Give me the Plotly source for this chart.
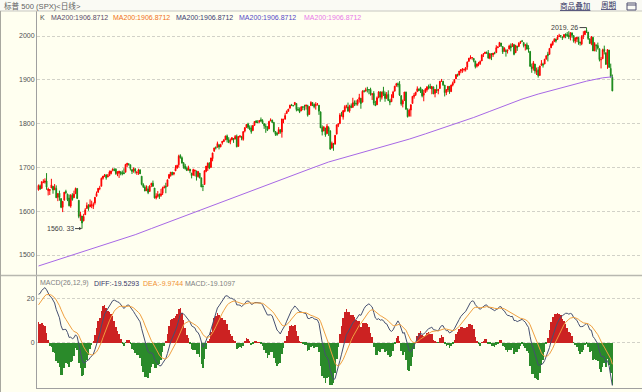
import numpy as np
import plotly.graph_objects as go

# ---------------- data (S&P 500 daily, May 15 2013 - Oct 13 2014) ----------------
# warm-up closes (Feb 19 - May 14, 2013), only used to seed the MACD averages
pre_close = [1530.9, 1512.0, 1502.4, 1515.6, 1487.9, 1496.9, 1516.0, 1514.7,
             1518.2, 1525.2, 1539.8, 1541.5, 1544.3, 1551.2, 1556.2, 1552.5, 1554.5, 1563.2, 1560.7, 1552.1,
             1548.3, 1558.7, 1545.8, 1556.9, 1551.7, 1563.8, 1562.9, 1569.2,
             1562.2, 1570.3, 1553.7, 1560.0, 1553.3, 1563.1, 1568.6, 1587.7, 1593.4, 1588.9, 1552.4, 1574.6,
             1552.0, 1541.6, 1555.3, 1562.5, 1578.8, 1578.8, 1585.2, 1582.2, 1593.6, 1597.6,
             1582.7, 1597.6, 1614.4, 1617.5, 1626.0, 1632.7, 1626.7, 1633.7, 1633.8, 1650.3]

opens = [
    1649, 1658, 1652, 1666, 1666, 1669, 1647, 1647, 1653, 1657, 1649, 1652,
    1632, 1641, 1629, 1609, 1625, 1645, 1639, 1630, 1612, 1636, 1631, 1640, 1652, 1625, 1589, 1589, 1578, 1592, 1606, 1611,
    1610, 1614, 1611, 1619, 1634, 1643, 1652, 1657, 1675, 1680, 1683, 1678, 1681, 1686, 1694, 1696, 1696, 1685, 1687, 1690, 1688, 1688,
    1689, 1706, 1708, 1706, 1695, 1693, 1696, 1688, 1691, 1694, 1680, 1661, 1655, 1647, 1651, 1645, 1660, 1664, 1653, 1630, 1634, 1639,
    1636, 1641, 1653, 1657, 1657, 1675, 1681, 1689, 1685, 1692, 1698, 1706, 1727, 1722, 1711, 1703, 1698, 1694, 1696, 1687,
    1682, 1692, 1692, 1679, 1687, 1676, 1657, 1661, 1691, 1700, 1709, 1700, 1720, 1737, 1745.2, 1746, 1752, 1747, 1756, 1759, 1763, 1772, 1763,
    1759, 1763, 1766, 1765, 1771, 1748, 1770, 1770, 1764, 1783, 1791, 1799, 1791, 1790, 1784, 1796, 1806, 1803, 1803, 1809,
    1807, 1800, 1794, 1793, 1788, 1806, 1808, 1803, 1782, 1778, 1777, 1786, 1781, 1809, 1810, 1823, 1828, 1835, 1843, 1841.5, 1843,
    1846, 1833, 1832, 1829, 1838, 1839, 1840, 1841, 1821, 1841, 1848, 1844, 1841, 1844.7, 1842, 1827, 1791, 1783, 1790, 1777, 1791,
    1783, 1744, 1753, 1753, 1776, 1796, 1800, 1820, 1815, 1828, 1839, 1838, 1829, 1841, 1837, 1848, 1846, 1845, 1855,
    1858, 1849, 1874, 1874, 1878.5, 1877.9, 1878, 1866, 1869, 1845, 1843, 1859, 1872, 1860, 1875, 1868, 1859, 1867, 1852, 1850, 1859,
    1874, 1887, 1891, 1890, 1864, 1845, 1853, 1872, 1831, 1818, 1831, 1846, 1862, 1866, 1873, 1879, 1882, 1878, 1865, 1871, 1877,
    1884.4, 1885, 1879, 1884, 1869, 1877, 1875, 1880, 1896.8, 1897, 1888, 1871, 1877, 1885, 1873, 1888, 1893, 1902, 1912, 1911, 1920,
    1923.9, 1923.1, 1923, 1929, 1942, 1949, 1950.3, 1949, 1943, 1931, 1935, 1937, 1943, 1958, 1960, 1962.9, 1962, 1949, 1959.9, 1957, 1960.8,
    1962, 1973.1, 1976, 1984, 1976, 1965, 1966.7, 1965.8, 1970, 1977, 1976, 1980, 1962, 1977, 1976, 1985, 1988, 1985, 1978.2, 1980, 1973, 1965,
    1929.8, 1927, 1936, 1917.3, 1923, 1910, 1933, 1935.7, 1936, 1947, 1958.9, 1958, 1973, 1980, 1987, 1993, 1992, 1998.6, 2000.5, 1997.4, 1998,
    2004.1, 2003.6, 2001.7, 1998, 2007.2, 2001, 1988.4, 1992.9, 1997, 1986, 1982, 1999.3, 2003, 2012.7, 2009, 1993, 1983, 1997, 1966, 1979, 1978.2,
    1971, 1945.8, 1948, 1970, 1962, 1936, 1968, 1926, 1905.7,
]
highs = [
    1661, 1661, 1667, 1673, 1675, 1687, 1654, 1650, 1674, 1657, 1662, 1659,
    1640, 1647, 1629, 1623, 1644, 1649, 1640, 1638, 1639, 1641, 1647, 1654, 1652, 1625, 1599, 1589, 1594, 1607, 1620, 1616,
    1627, 1624, 1620, 1632, 1645, 1653, 1658, 1677, 1680, 1685, 1684, 1685, 1693, 1692, 1698, 1698, 1698, 1691, 1692, 1691, 1693, 1698,
    1708, 1710, 1709, 1706, 1695, 1700, 1699, 1691, 1697, 1696, 1680, 1664, 1659, 1659, 1657, 1660, 1665, 1670, 1653, 1641, 1646, 1640,
    1651, 1656, 1659, 1665, 1672, 1684, 1689, 1690, 1689, 1705, 1706, 1729, 1730, 1725, 1711, 1708, 1702, 1704, 1696, 1687,
    1697, 1694, 1692, 1692, 1687, 1677, 1662, 1693, 1703, 1711, 1712, 1722, 1733, 1745, 1748, 1759, 1752, 1754, 1760, 1765, 1772, 1775, 1769,
    1766, 1769, 1767, 1774, 1775, 1771, 1773, 1772, 1782, 1792, 1798, 1802, 1796, 1796, 1797, 1805, 1808, 1808, 1808, 1814,
    1810, 1800, 1800, 1793, 1806, 1812, 1809, 1803, 1783, 1781, 1792, 1787, 1811, 1811, 1824, 1830, 1833, 1843, 1845, 1842, 1849,
    1846, 1838, 1837, 1840, 1840, 1843, 1843, 1843, 1839, 1851, 1848, 1846, 1849, 1847, 1842, 1827, 1796, 1794, 1790, 1799, 1794,
    1785, 1759, 1756, 1774, 1798, 1800, 1824, 1827, 1830, 1842, 1843, 1848, 1843, 1846, 1859, 1853, 1853, 1855, 1868,
    1858, 1876, 1877, 1882, 1884, 1878, 1882, 1868, 1874, 1852, 1862, 1874, 1874, 1873, 1884, 1873, 1872, 1876, 1856, 1867, 1875,
    1886, 1893, 1894, 1897, 1864, 1855, 1872, 1873, 1835, 1834, 1844, 1862, 1870, 1872, 1885, 1880, 1884, 1878, 1877, 1881, 1885,
    1889, 1891, 1886, 1884, 1879, 1889, 1879, 1897, 1902, 1897, 1888, 1878, 1886, 1885, 1889, 1896, 1901, 1912, 1914, 1920, 1924,
    1926, 1925, 1929, 1942, 1949, 1956, 1951, 1949, 1943, 1937, 1941, 1944, 1958, 1960, 1964, 1964, 1968, 1961, 1960, 1961, 1964,
    1979, 1977, 1986, 1984, 1976, 1974, 1970, 1969, 1980, 1983, 1984, 1982, 1980, 1977, 1986, 1989, 1991, 1985, 1982, 1985, 1979, 1965,
    1937, 1943, 1936, 1928, 1929, 1932, 1945, 1939, 1948, 1955, 1964, 1972, 1983, 1989, 1995, 1994, 2002, 2005, 2002, 1999, 2003,
    2006, 2009, 2011, 2008, 2007, 2001, 1997, 1998, 1997, 1987, 2002, 2011, 2012, 2019.26, 2009, 1995, 2000, 1997, 1986, 1981, 1985,
    1971, 1952, 1971, 1978, 1962, 1970, 1968, 1937, 1912,
]
lows = [
    1647, 1649, 1652, 1664, 1663, 1649, 1636, 1637, 1653, 1640, 1649, 1631,
    1623, 1624, 1607, 1598, 1625, 1639, 1623, 1611, 1608, 1624, 1630, 1640, 1629, 1584, 1578, 1560.33, 1577, 1592, 1606, 1601,
    1610, 1607, 1605, 1615, 1634, 1643, 1648, 1657, 1672, 1678, 1672, 1678, 1681, 1684, 1691, 1692, 1683, 1680, 1676, 1682, 1682, 1685,
    1689, 1701, 1704, 1693, 1685, 1688, 1686, 1683, 1683, 1685, 1659, 1653, 1646, 1646, 1639, 1645, 1655, 1656, 1629, 1627, 1631, 1628,
    1633, 1637, 1653, 1641, 1657, 1675, 1679, 1682, 1682, 1692, 1698, 1700, 1720, 1709, 1697, 1695, 1692, 1693, 1687, 1675,
    1682, 1680, 1670, 1677, 1675, 1655, 1646, 1661, 1689, 1692, 1696, 1700, 1714, 1736, 1741, 1746, 1741, 1746, 1752, 1758, 1763, 1757, 1756,
    1753, 1762, 1756, 1764, 1746, 1748, 1768, 1762, 1761, 1780, 1791, 1788, 1785, 1777, 1784, 1795, 1801, 1801, 1803, 1804,
    1799, 1788, 1779, 1783, 1788, 1806, 1802, 1780, 1772, 1772, 1777, 1777, 1768, 1801, 1810, 1823, 1828, 1835, 1840, 1839, 1842,
    1828, 1829, 1824, 1829, 1831, 1830, 1832, 1816, 1821, 1841, 1840, 1835, 1832, 1841, 1820, 1790, 1773, 1783, 1770, 1777, 1772,
    1740, 1744, 1738, 1753, 1776, 1792, 1800, 1816, 1809, 1826, 1835, 1827, 1825, 1836, 1837, 1840, 1841, 1841, 1848,
    1834, 1849, 1871, 1874, 1871, 1867, 1864, 1854, 1842, 1840, 1843, 1859, 1850, 1855, 1863, 1850, 1856, 1853, 1842, 1850, 1859,
    1874, 1884, 1883, 1863, 1841, 1837, 1852, 1831, 1814, 1816, 1816, 1846, 1857, 1863, 1873, 1874, 1870, 1860, 1851, 1871, 1873,
    1878, 1879, 1867, 1868, 1860, 1870, 1867, 1880, 1896, 1886, 1862, 1865, 1872, 1868, 1873, 1885, 1893, 1902, 1907, 1910, 1915,
    1916, 1919, 1919, 1923, 1942, 1947, 1946, 1940, 1926, 1928, 1931, 1934, 1943, 1952, 1959, 1959, 1948, 1947, 1945, 1952, 1958,
    1962, 1973, 1976, 1975, 1959, 1965, 1953, 1960, 1970, 1965, 1976, 1956, 1961, 1966, 1976, 1982, 1986, 1974, 1967, 1970, 1962, 1931,
    1916, 1921, 1914, 1911, 1905, 1909, 1933, 1928, 1936, 1947, 1942, 1958, 1973, 1978, 1987, 1985, 1992, 1999, 1996, 1991, 1995,
    1995, 1998, 1993, 1990, 1996, 1985, 1983, 1986, 1980, 1978, 1979, 1993, 2003, 2007, 1991, 1983, 1979, 1966, 1966, 1964, 1969,
    1942, 1926, 1948, 1958, 1935, 1925, 1928, 1906, 1874,
]
closes = [
    1658.78, 1650.47, 1667.47, 1666.29, 1669.16, 1655.35, 1650.51, 1649.60, 1660.06, 1648.36, 1654.41, 1630.74,
    1640.42, 1631.38, 1608.90, 1622.56, 1643.38, 1642.81, 1626.13, 1612.52, 1636.36, 1626.73, 1639.04, 1651.81, 1628.93, 1588.19, 1592.43, 1573.09, 1588.03, 1603.26, 1613.20, 1606.28,
    1614.96, 1614.08, 1615.41, 1631.89, 1640.46, 1652.32, 1652.62, 1675.02, 1680.19, 1682.50, 1676.26, 1680.91, 1689.37, 1692.09, 1695.53, 1692.39, 1685.94, 1690.25, 1691.65, 1685.33, 1685.96, 1685.73,
    1706.87, 1709.67, 1707.14, 1697.37, 1690.91, 1697.48, 1691.42, 1689.47, 1694.16, 1685.39, 1661.32, 1655.83, 1646.06, 1652.35, 1642.80, 1656.96, 1663.50, 1656.78, 1630.48, 1634.96, 1638.17, 1632.97,
    1639.77, 1653.08, 1655.08, 1655.17, 1671.71, 1683.99, 1689.13, 1683.42, 1687.99, 1697.60, 1704.76, 1725.52, 1722.34, 1709.91, 1701.84, 1697.42, 1692.77, 1698.67, 1691.75, 1681.55,
    1695.00, 1693.87, 1678.66, 1690.50, 1676.12, 1655.45, 1656.40, 1692.56, 1703.20, 1710.14, 1698.06, 1721.54, 1733.15, 1744.50, 1744.66, 1754.67, 1746.38, 1752.07, 1759.77, 1762.11, 1771.95, 1763.31, 1756.54,
    1761.64, 1767.93, 1762.97, 1770.49, 1747.15, 1770.61, 1771.89, 1767.69, 1782.00, 1790.62, 1798.18, 1791.53, 1787.87, 1781.37, 1795.85, 1804.76, 1802.48, 1802.75, 1807.23, 1805.81,
    1800.90, 1795.15, 1792.81, 1785.03, 1805.09, 1808.37, 1802.62, 1782.22, 1775.50, 1775.32, 1786.54, 1781.00, 1810.65, 1809.60, 1818.32, 1827.99, 1833.32, 1842.02, 1841.40, 1841.07, 1848.36,
    1831.98, 1831.37, 1826.77, 1837.88, 1837.49, 1838.13, 1842.37, 1819.20, 1838.88, 1848.38, 1845.89, 1838.70, 1843.80, 1844.86, 1828.46, 1790.29, 1781.56, 1792.50, 1774.20, 1794.19, 1782.59,
    1741.89, 1755.20, 1751.64, 1773.43, 1797.02, 1799.84, 1819.75, 1819.26, 1829.83, 1838.63, 1840.76, 1828.75, 1839.78, 1836.25, 1847.61, 1845.12, 1845.16, 1854.29, 1859.45,
    1845.73, 1873.91, 1873.81, 1877.03, 1878.04, 1877.17, 1867.63, 1868.20, 1846.34, 1841.13, 1858.83, 1872.25, 1860.77, 1872.01, 1866.52, 1857.44, 1865.62, 1852.56, 1849.04, 1857.62, 1872.34,
    1885.52, 1890.90, 1888.77, 1865.09, 1845.04, 1851.96, 1872.18, 1833.08, 1815.69, 1830.61, 1842.98, 1862.31, 1864.85, 1871.89, 1879.55, 1875.39, 1878.61, 1863.40, 1869.43, 1878.33, 1883.95,
    1883.68, 1881.14, 1884.66, 1867.72, 1878.21, 1875.63, 1878.48, 1896.65, 1897.45, 1888.53, 1870.85, 1877.86, 1885.08, 1872.83, 1888.03, 1892.49, 1900.53, 1911.91, 1909.78, 1920.03, 1923.57,
    1924.97, 1924.24, 1927.88, 1940.46, 1949.44, 1951.27, 1950.79, 1943.89, 1930.11, 1936.16, 1937.78, 1941.99, 1956.98, 1959.48, 1962.87, 1962.61, 1949.98, 1959.53, 1957.22, 1960.96, 1960.23,
    1973.32, 1974.62, 1985.44, 1977.65, 1963.71, 1972.83, 1964.68, 1967.57, 1977.10, 1973.28, 1981.57, 1958.12, 1978.22, 1973.63, 1983.53, 1987.01, 1987.98, 1978.34, 1978.91, 1969.95, 1970.07, 1930.67,
    1925.15, 1938.99, 1920.21, 1920.24, 1909.57, 1931.59, 1936.92, 1933.75, 1946.72, 1955.18, 1955.06, 1971.74, 1981.60, 1986.51, 1992.37, 1988.40, 1997.92, 2000.02, 2000.12, 1996.74, 2003.37,
    2002.28, 2000.72, 1997.65, 2007.71, 2001.54, 1988.44, 1995.69, 1997.45, 1985.54, 1984.13, 1998.98, 2001.57, 2011.36, 2010.40, 1994.29, 1982.77, 1998.30, 1965.99, 1982.85, 1977.80, 1972.29,
    1946.16, 1946.17, 1967.90, 1964.82, 1935.10, 1968.89, 1928.21, 1906.13, 1874.74,
]

# 200-day moving average at every 10th session
ma200_session = [0, 10, 20, 30, 40, 50, 60, 70, 80, 90, 100, 110, 120, 130, 140, 150, 160, 170, 180,
                 190, 200, 210, 220, 230, 240, 250, 260, 270, 280, 290, 300, 310, 320, 330, 340, 350, 356]
ma200_value = [1475.0, 1486.7, 1498.4, 1510.1, 1521.8, 1533.5, 1546.4, 1560.4, 1574.4, 1588.4, 1602.4,
               1616.4, 1630.4, 1644.4, 1658.4, 1671.9, 1685.4, 1698.9, 1712.4, 1722.8, 1732.8, 1742.8,
               1752.8, 1764.6, 1776.6, 1788.6, 1800.6, 1814.0, 1828.0, 1842.0, 1856.0, 1867.5, 1877.5,
               1887.5, 1897.0, 1904.5, 1906.87]

price_ticks = [1500, 1600, 1700, 1800, 1900, 2000]
macd_ticks = [0, 20]

assert len(opens) == len(highs) == len(lows) == len(closes), (len(opens), len(highs), len(lows), len(closes))

# ---------------- indicators ----------------
def ema(a, n):
    k = 2.0 / (n + 1)
    out = np.empty_like(a)
    out[0] = a[0]
    for i in range(1, len(a)):
        out[i] = out[i - 1] + k * (a[i] - out[i - 1])
    return out

allc = np.array(pre_close + closes, dtype=float)
diff = ema(allc, 12) - ema(allc, 26)
dea = ema(diff, 9)
macd = 2 * (diff - dea)
npre = len(pre_close)
diff, dea, macd = diff[npre:], dea[npre:], macd[npre:]

n = len(closes)
xs = list(range(n))

# ---------------- layout helpers ----------------
W, H = 642, 392
def fx(p):
    return p / W
def fy(p):
    return 1 - p / H

BG = "#fffff0"
FONT = "Liberation Sans, Noto Sans CJK SC, sans-serif"
XR = [-0.93, 374.4]
FS = 7.0

fig = go.Figure()

fig.add_trace(go.Candlestick(
    x=xs, open=opens, high=highs, low=lows, close=closes,
    increasing=dict(line=dict(color="#ff0000", width=1), fillcolor="#ff0000"),
    decreasing=dict(line=dict(color="#1a8a1a", width=1), fillcolor="#1a8a1a"),
    whiskerwidth=0, xaxis="x", yaxis="y", showlegend=False, hoverinfo="skip"))

fig.add_trace(go.Scatter(x=ma200_session, y=ma200_value, mode="lines",
                         line=dict(color="#a768e6", width=1), xaxis="x", yaxis="y",
                         showlegend=False, hoverinfo="skip"))

bar_colors = ["#cc2222" if v >= 0 else "#2a8a2a" for v in macd]
fig.add_trace(go.Bar(x=xs, y=macd, marker=dict(color=bar_colors, line=dict(width=0)),
                     width=0.38, xaxis="x2", yaxis="y2", showlegend=False, hoverinfo="skip"))
fig.add_trace(go.Scatter(x=xs, y=diff, mode="lines", line=dict(color="#465070", width=1),
                         xaxis="x2", yaxis="y2", showlegend=False, hoverinfo="skip"))
fig.add_trace(go.Scatter(x=xs, y=dea, mode="lines", line=dict(color="#f0a040", width=1),
                         xaxis="x2", yaxis="y2", showlegend=False, hoverinfo="skip"))

tickfont = dict(family=FONT, size=FS, color="#505050")
grid = dict(showgrid=True, gridcolor="#d2d2c8", gridwidth=1, griddash="3px,2px")

fig.update_layout(
    width=W, height=H, margin=dict(l=0, r=0, t=0, b=0, autoexpand=False),
    paper_bgcolor=BG, plot_bgcolor=BG, hovermode=False, bargap=0,
    xaxis=dict(domain=[fx(37), 1], range=XR, visible=False, rangeslider=dict(visible=False),
               anchor="y", automargin=False),
    yaxis=dict(domain=[fy(275), fy(11)], range=[1454.4, 2057.1], tickvals=price_ticks,
               ticks="", tickfont=tickfont, showline=True, linecolor="#a0a0a0", linewidth=1,
               zeroline=False, anchor="x", automargin=False, **grid),
    xaxis2=dict(domain=[fx(37), 1], range=XR, showticklabels=False, ticks="", showgrid=False,
                zeroline=False, showline=True, linecolor="#a0a0a0", linewidth=1, anchor="y2",
                automargin=False),
    yaxis2=dict(domain=[fy(388), fy(276)], range=[-20.4, 30.05], tickvals=macd_ticks,
                ticks="", tickfont=tickfont, showline=True, linecolor="#a0a0a0", linewidth=1,
                zeroline=False, anchor="x2", automargin=False, **grid),
)

shapes = [
    dict(type="rect", xref="paper", yref="paper", x0=0, x1=1, y0=fy(11), y1=1,
         fillcolor="#fafaf4", line=dict(width=0), layer="below"),
    dict(type="line", xref="paper", yref="paper", x0=0, x1=1, y0=fy(11), y1=fy(11),
         line=dict(color="#c8c8c0", width=1)),
    dict(type="line", xref="paper", yref="paper", x0=0, x1=1, y0=fy(275.5), y1=fy(275.5),
         line=dict(color="#b8b8b0", width=1.5)),
    dict(type="line", xref="paper", yref="paper", x0=fx(0.5), x1=fx(0.5), y0=0, y1=fy(11),
         line=dict(color="#a8a8a0", width=1)),
    dict(type="rect", xref="paper", yref="paper", x0=fx(627), x1=fx(636), y0=fy(10), y1=fy(3),
         fillcolor="rgba(0,0,0,0)", line=dict(color="#505070", width=1)),
    dict(type="line", xref="paper", yref="paper", x0=fx(627), x1=fx(636), y0=fy(5), y1=fy(5),
         line=dict(color="#505070", width=1)),
]
fig.update_layout(shapes=shapes)

ann = []
def txt(x, y, s, color, size=FS, anchor="left"):
    ann.append(dict(x=fx(x), y=fy(y), xref="paper", yref="paper", text=s, showarrow=False,
                    xanchor=anchor, yanchor="middle", font=dict(family=FONT, size=size, color=color)))

txt(2, 6, "标普 500 (SPX)<日线>", "#606060", 7.6)
txt(558, 6, '<span style="text-decoration:underline">商品叠加</span>', "#303060", 7.6)
txt(599, 6, '<span style="text-decoration:underline">周期</span>', "#303060", 7.6)

txt(38, 17.3, "K", "#505050")
ma_label_x = [49, 111, 174, 237.3, 301.7]
ma_label_c = ["#584868", "#f07020", "#3a3a70", "#5448c8", "#e878e8"]
for lx, lc in zip(ma_label_x, ma_label_c):
    txt(lx, 17.3, "MA200:1906.8712", lc)

txt(38.3, 283.3, "MACD(26,12,9)", "#808080")
txt(91.7, 283.3, "DIFF:-19.5293", "#383868")
txt(140.7, 283.3, "DEA:-9.9744", "#f09030")
txt(182.5, 283.3, "MACD:-19.1097", "#808080")

i_lo = int(np.argmin(lows))
i_hi = int(np.argmax(highs))
ann.append(dict(x=i_lo, y=lows[i_lo], xref="x", yref="y", text="1560. 33", showarrow=True,
                ax=-22, ay=0, arrowhead=2, arrowsize=0.6, arrowwidth=1, arrowcolor="#404040",
                standoff=0, font=dict(family=FONT, size=FS, color="#404040")))
ann.append(dict(x=i_hi, y=highs[i_hi], xref="x", yref="y", text="2019. 26", showarrow=True,
                ax=-22, ay=0, arrowhead=0, arrowwidth=1, arrowcolor="#404040",
                standoff=0, font=dict(family=FONT, size=FS, color="#404040")))
fig.update_layout(annotations=ann)

fig.write_html("out.html", config={"displayModeBar": False},
               post_script="document.body.style.margin='0';document.body.style.overflow='hidden';")
